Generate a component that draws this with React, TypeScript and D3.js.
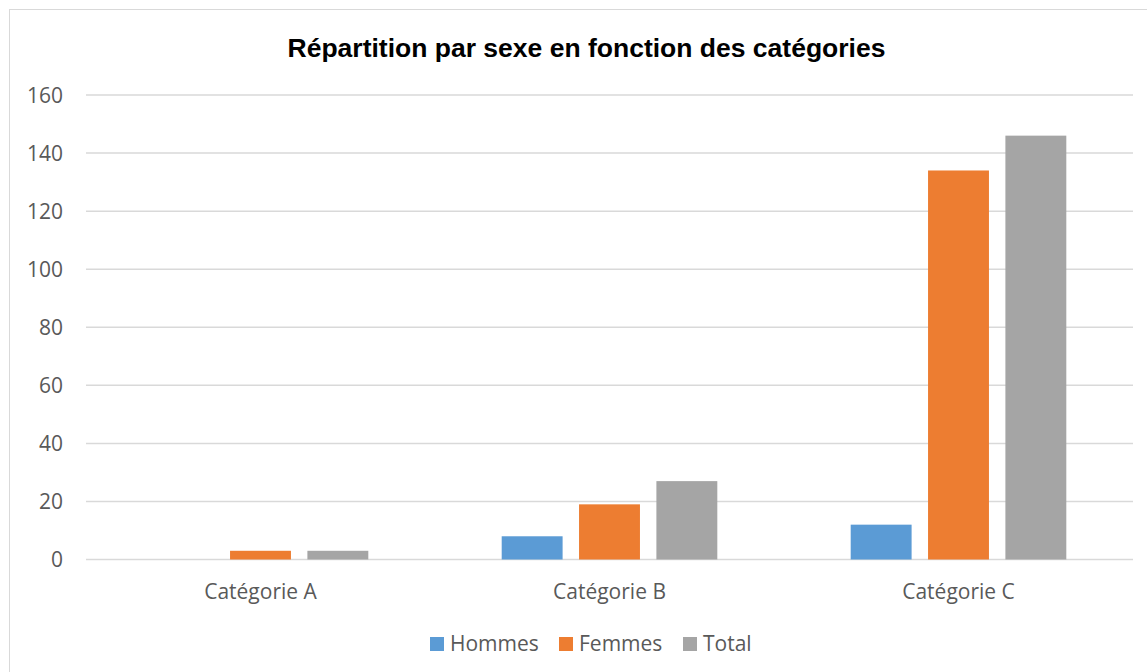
import React from "react";
import * as d3 from "d3";

const categories = ["Catégorie A", "Catégorie B", "Catégorie C"];
const seriesNames = ["Hommes", "Femmes", "Total"];
const hommes = [0, 8, 12];
const femmes = [3, 19, 134];
const total = [3, 27, 146];
const yTicks = [0, 20, 40, 60, 80, 100, 120, 140, 160];
const colors = ["#5B9BD5", "#ED7D31", "#A5A5A5"];
const title = "Répartition par sexe en fonction des catégories";

const W = 1147;
const H = 672;
const plot = { left: 86, right: 1133, top: 95, bottom: 559.5 };
const textFont = "'Open Sans', sans-serif";
const fs = 21;

export default function App() {
  const values = [hommes, femmes, total];
  const x0 = d3.scaleBand<string>().domain(categories).range([plot.left, plot.right]).paddingInner(0).paddingOuter(0);
  const y = d3.scaleLinear().domain([0, 160]).range([plot.bottom, plot.top]);
  // Excel-like: gap width 219%, overlap -27%
  const bw = x0.bandwidth() / (3 + 2 * 0.27 + 2.19);
  const gap = bw * 0.27;
  const groupW = 3 * bw + 2 * gap;

  const legendItems = [
    { name: seriesNames[0], x: 430 },
    { name: seriesNames[1], x: 559 },
    { name: seriesNames[2], x: 683 },
  ];

  return (
    <svg width={W} height={H} style={{ position: "absolute", left: 0, top: 0 }}>
      <rect x={0} y={0} width={W} height={H} fill="#fff" />
      <rect x={9.5} y={9.5} width={W + 20} height={H + 20} fill="#fff" stroke="#D9D9D9" strokeWidth={1} />
      <text x={586.5} y={56.5} textAnchor="middle" fontFamily="'Liberation Sans', Arial, sans-serif" fontWeight="bold" fontSize={26.5} fill="#000">
        {title}
      </text>
      {yTicks.map((t) => (
        <g key={t}>
          <line x1={plot.left} x2={plot.right} y1={y(t)} y2={y(t)} stroke="#D9D9D9" strokeWidth={1.5} />
          <text x={63} y={y(t)} dy="0.36em" textAnchor="end" fontFamily={textFont} fontSize={fs} fill="#595959">
            {t}
          </text>
        </g>
      ))}
      {categories.map((c, ci) => {
        const start = (x0(c) as number) + (x0.bandwidth() - groupW) / 2;
        return (
          <g key={c}>
            {values.map((vals, si) => {
              const v = vals[ci];
              if (v <= 0) return null;
              return (
                <rect
                  key={si}
                  x={start + si * (bw + gap)}
                  y={y(v)}
                  width={bw}
                  height={y(0) - y(v)}
                  fill={colors[si]}
                />
              );
            })}
            <text x={(x0(c) as number) + x0.bandwidth() / 2} y={599} textAnchor="middle" fontFamily={textFont} fontSize={fs} fill="#595959">
              {c}
            </text>
          </g>
        );
      })}
      {legendItems.map((l, i) => (
        <g key={l.name}>
          <rect x={l.x} y={637} width={14} height={14} fill={colors[i]} />
          <text x={l.x + 20} y={651} fontFamily={textFont} fontSize={fs} fill="#595959">
            {l.name}
          </text>
        </g>
      ))}
    </svg>
  );
}
